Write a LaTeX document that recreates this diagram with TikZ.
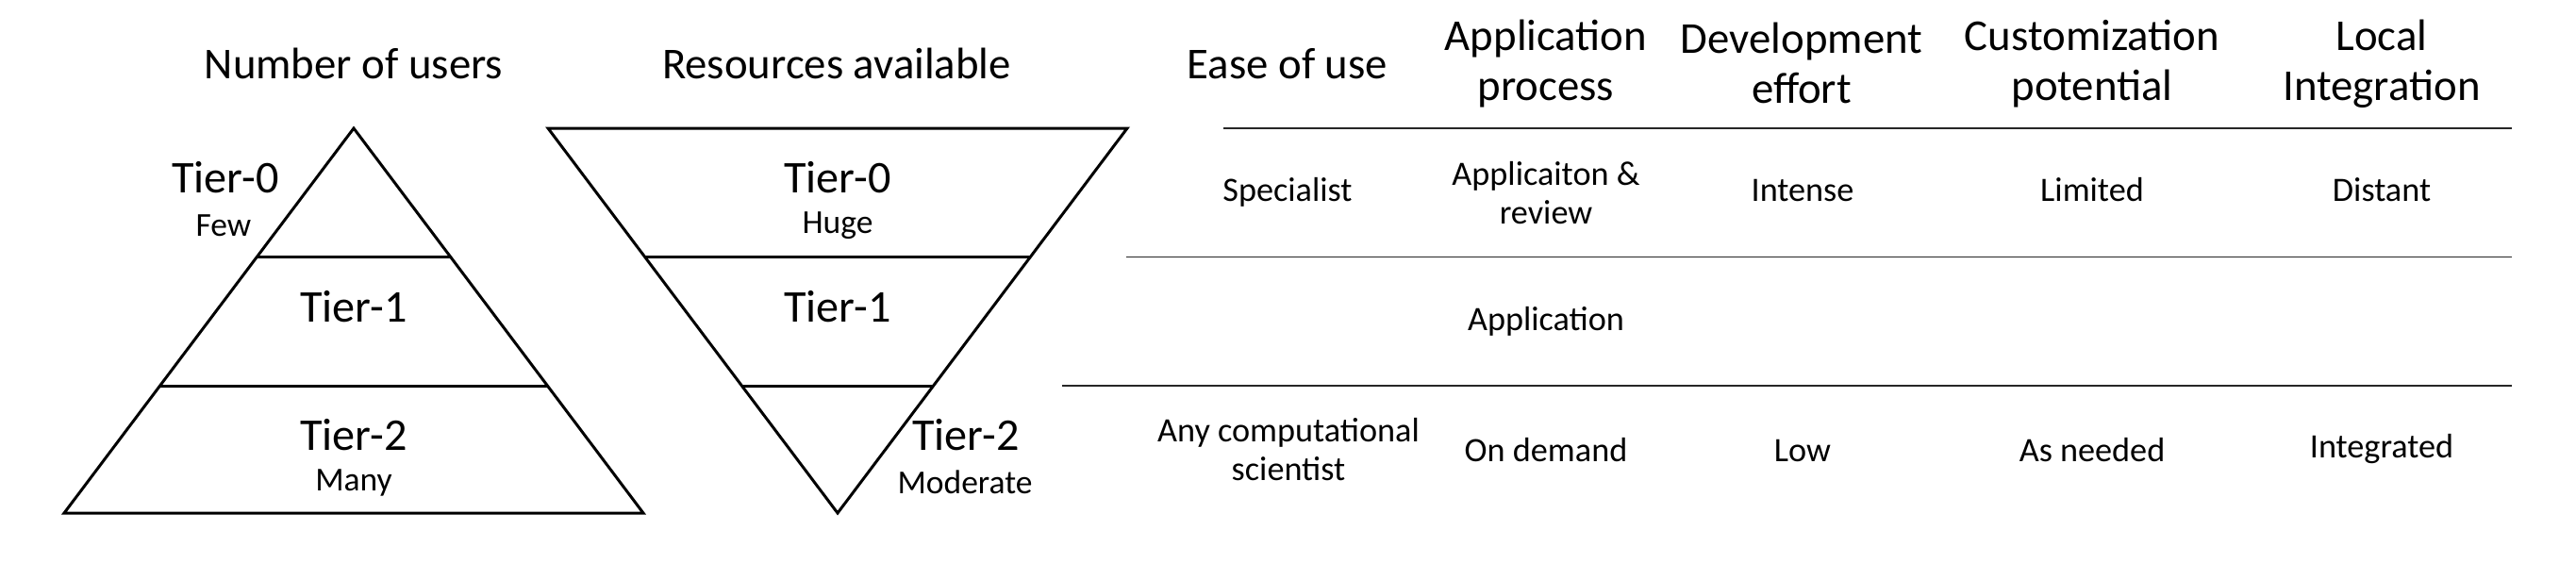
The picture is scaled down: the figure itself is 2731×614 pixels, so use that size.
\documentclass[tikz,border=0pt]{standalone}
\usepackage{fontspec}
\setmainfont{Carlito}
\newcommand{\twoline}[2]{\begin{tabular}[t]{@{}c@{}}#1\\#2\end{tabular}}
\begin{document}
\begin{tikzpicture}[x=0.01cm,y=-0.01cm,
  tri/.style={line width=0.85pt,line join=miter},
  rulerow/.style={line width=0.4pt,black!85},
  ttl/.style={font=\fontsize{13.3}{15.3}\selectfont,inner sep=0pt,anchor=base},
  hdr/.style={font=\fontsize{13.3}{15.3}\selectfont,inner sep=0pt,anchor=base},
  tier/.style={font=\fontsize{13.7}{15.6}\selectfont,inner sep=0pt,anchor=base},
  sub/.style={font=\fontsize{10.1}{11.7}\selectfont,inner sep=0pt,anchor=base},
  cell/.style={font=\fontsize{10.3}{11.7}\selectfont,inner sep=0pt,anchor=base}]
\useasboundingbox (0,0) rectangle (2731,614);
% titles
\node[ttl] (t1) at (375,83) {Number of users};
\node[ttl] (t2) at (887,83) {Resources available};
% left pyramid
\draw[tri] (375,136) -- (682,544) -- (68,544) -- cycle;
\draw[tri] (272.7,272) -- (477.3,272);
\draw[tri] (169.6,409) -- (580.4,409);
\node[tier] (p0) at (239,204) {Tier-0};
\node[sub] (p0s) at (237,250) {Few};
\node[tier] (p1) at (375,341) {Tier-1};
\node[tier] (p2) at (375,477) {Tier-2};
\node[sub] (p2s) at (375,520) {Many};
% right inverted pyramid
\draw[tri] (581,136) -- (1195,136) -- (888,544) -- cycle;
\draw[tri] (683.3,272) -- (1092.7,272);
\draw[tri] (786.4,409) -- (989.6,409);
\node[tier] (r0) at (888,204) {Tier-0};
\node[sub] (r0s) at (888,247) {Huge};
\node[tier] (r1) at (888,341) {Tier-1};
\node[tier] (r2) at (1024,477) {Tier-2};
\node[sub] (r2s) at (1023,523) {Moderate};
% table rules
\draw[rulerow] (1297,136) -- (2663,136);
\draw[rulerow] (1194,272.5) -- (2663,272.5);
\draw[rulerow] (1126,409) -- (2663,409);
% headers
\node[hdr] (h1) at (1365,83) {Ease of use};
\node[hdr] (h2) at (1639,53) {\twoline{Application}{process}};
\node[hdr] (h3) at (1910,56) {\twoline{Development}{effort}};
\node[hdr] (h4) at (2218,53) {\twoline{Customization}{potential}};
\node[hdr] (h5) at (2525,53) {\twoline{Local}{Integration}};
% row 1
\node[cell] (c11) at (1365,213) {Specialist};
\node[cell] (c12) at (1639,196) {\twoline{Applicaiton \&}{review}};
\node[cell] (c13) at (1911,213) {Intense};
\node[cell] (c14) at (2218,213) {Limited};
\node[cell] (c15) at (2525,213) {Distant};
% row 2
\node[cell] (c22) at (1639,350) {Application};
% row 3
\node[cell] (c31) at (1366,468) {\twoline{Any computational}{scientist}};
\node[cell] (c32) at (1639,489) {On demand};
\node[cell] (c33) at (1911,489) {Low};
\node[cell] (c34) at (2218,489) {As needed};
\node[cell] (c35) at (2525,485) {Integrated};
\end{tikzpicture}
\end{document}
